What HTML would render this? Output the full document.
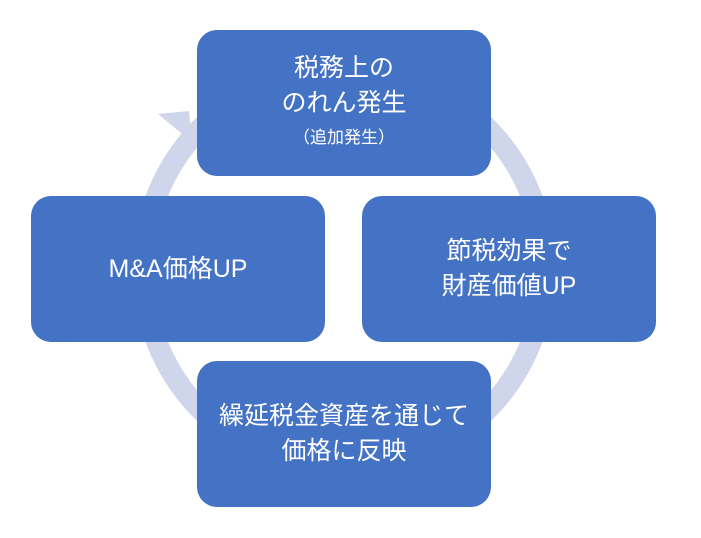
<!DOCTYPE html>
<html><head><meta charset="utf-8"><style>
body{margin:0;width:701px;height:538px;background:#fff;position:relative;overflow:hidden;font-family:"Liberation Sans","Noto Sans CJK JP",sans-serif}
.b{position:absolute;width:294px;height:146px;background:#4472C4;border-radius:20px;color:#fff;display:flex;flex-direction:column;align-items:center;justify-content:center;font-size:25px;line-height:35px;text-align:center}
.s{font-size:17px;line-height:34px}
svg{position:absolute;left:0;top:0}
</style></head><body>
<svg width="701" height="538">
<circle cx="344" cy="269" r="201" fill="none" stroke="#CFD5EA" stroke-width="21"/>
<polygon points="158,114 189,111 192,142" fill="#CFD5EA"/>
</svg>
<div class="b" style="left:197px;top:30px"><div>税務上の</div><div>のれん発生</div><div class="s">（追加発生）</div></div>
<div class="b" style="left:362px;top:196px"><div>節税効果で</div><div>財産価値UP</div></div>
<div class="b" style="left:31px;top:196px"><div>M&amp;A価格UP</div></div>
<div class="b" style="left:197px;top:361px"><div>繰延税金資産を通じて</div><div>価格に反映</div></div>
</body></html>
